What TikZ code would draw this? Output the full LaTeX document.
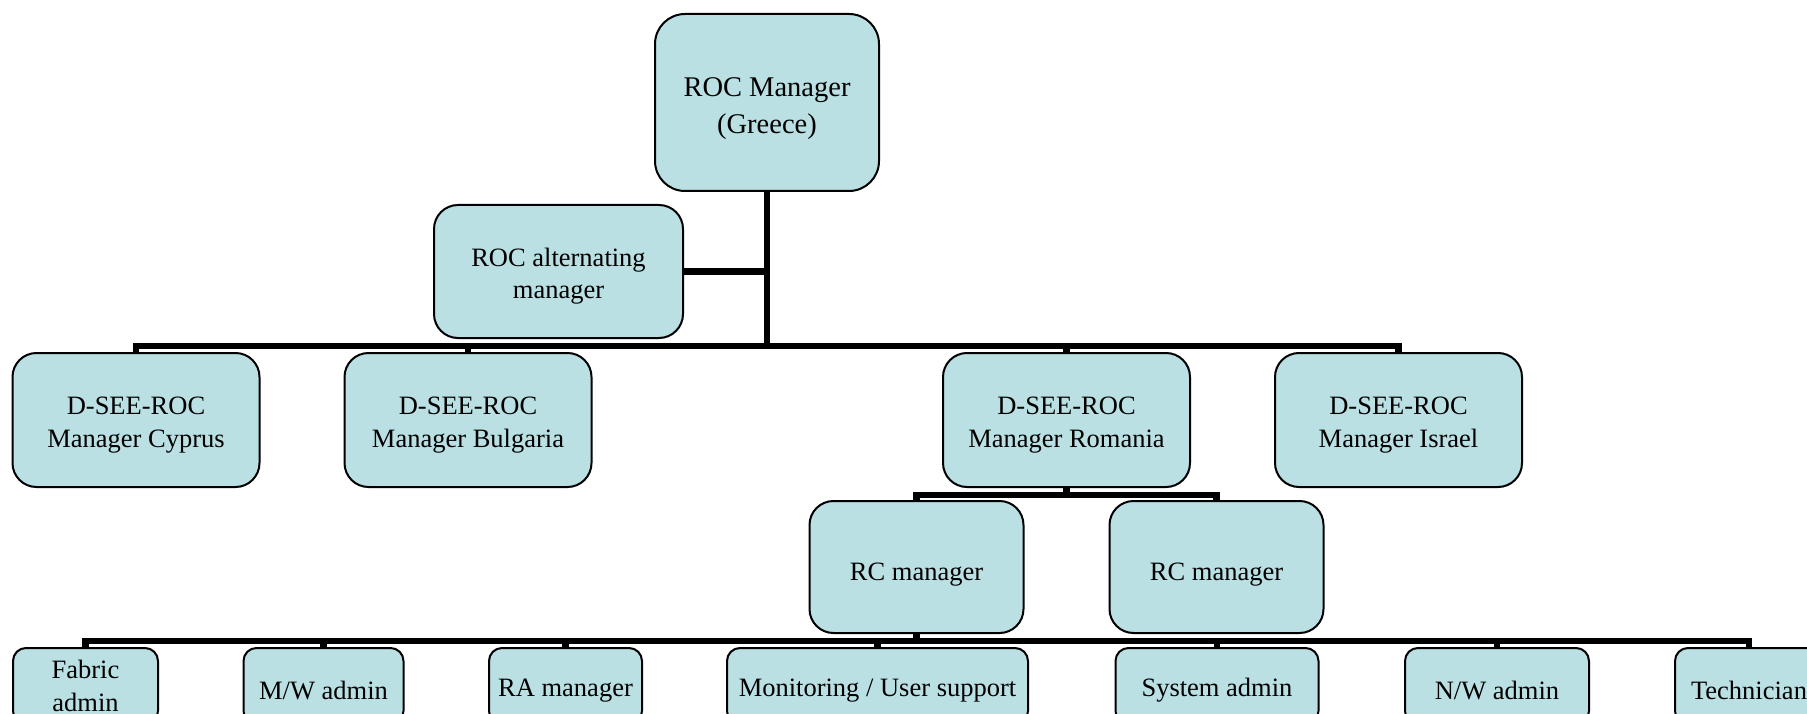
\documentclass[tikz,border=0pt]{standalone}
\usepackage{fontspec}
\setmainfont{Liberation Serif}
\definecolor{boxfill}{RGB}{186,224,227}
\newcommand\tdn[1]{\rule{0pt}{#1}}
\begin{document}
\begin{tikzpicture}[x=1pt,y=-1pt,
  box/.style={draw=black, line width=2pt, fill=boxfill, rounded corners=#1,
    align=center, inner sep=0pt, text=black,
    font=\fontsize{26.5}{32.5}\selectfont},
  box/.default=24pt,
  tdown/.style={execute at begin node={\rule{0pt}{#1}}},
  conn/.style={draw=black, line width=6.5pt, line join=miter}]
\clip (0,0) rectangle (1807,714);
\fill[white] (0,0) rectangle (1807,714);
% coordinates of the bars
\coordinate (barA) at (0,346);
\coordinate (barB) at (0,495);
\coordinate (barC) at (0,641);
% top levels
\node[box=30pt, minimum width=224, minimum height=177,
  font=\fontsize{28.5}{36.5}\selectfont] (roc) at (767,102.5) {\tdn{31pt}ROC Manager\\(Greece)};
\node[box, minimum width=249, minimum height=133] (alt) at (558.5,271.5) {\tdn{28pt}ROC alternating\\manager};
\node[box, minimum width=247, minimum height=134] (cy) at (136,420) {\tdn{28pt}D-SEE-ROC\\Manager Cyprus};
\node[box, minimum width=247, minimum height=134] (bg) at (468,420) {\tdn{28pt}D-SEE-ROC\\Manager Bulgaria};
\node[box, minimum width=247, minimum height=134] (ro) at (1066.5,420) {\tdn{28pt}D-SEE-ROC\\Manager Romania};
\node[box, minimum width=247, minimum height=134] (il) at (1398.5,420) {\tdn{28pt}D-SEE-ROC\\Manager Israel};
\node[box, minimum width=214, minimum height=132, tdown=32pt] (rc1) at (916.5,567) {RC manager};
\node[box, minimum width=214, minimum height=132, tdown=32pt] (rc2) at (1216.5,567) {RC manager};
% bottom level
\node[box=13pt, minimum width=145, minimum height=76] (fab) at (85.5,686) {Fabric\\admin};
\node[box=13pt, minimum width=160, minimum height=76, tdown=27pt] (mw) at (323.5,686) {M/W admin};
\node[box=13pt, minimum width=153, minimum height=76, tdown=27pt] (ra) at (565.5,686) {RA manager};
\node[box=13pt, minimum width=301, minimum height=76, tdown=27pt] (mon) at (877.5,686) {Monitoring / User support};
\node[box=13pt, minimum width=203, minimum height=76, tdown=27pt] (sys) at (1217,686) {System admin};
\node[box=13pt, minimum width=184, minimum height=76, tdown=27pt] (nw) at (1497,686) {N/W admin};
\node[box=13pt, minimum width=148, minimum height=76, tdown=27pt] (tech) at (1749,686) {Technician};
% connectors
\draw[conn] (roc.south |- alt.east) -- (alt.east);
\foreach \c in {cy,bg,ro,il}
  \draw[conn] (roc.south) -- (roc.south |- barA) -| (\c.north);
\foreach \c in {rc1,rc2}
  \draw[conn] (ro.south) -- (ro.south |- barB) -| (\c.north);
\foreach \c in {fab,mw,ra,mon,sys,nw,tech}
  \draw[conn] (rc1.south) -- (rc1.south |- barC) -| (\c.north);
\end{tikzpicture}
\end{document}
